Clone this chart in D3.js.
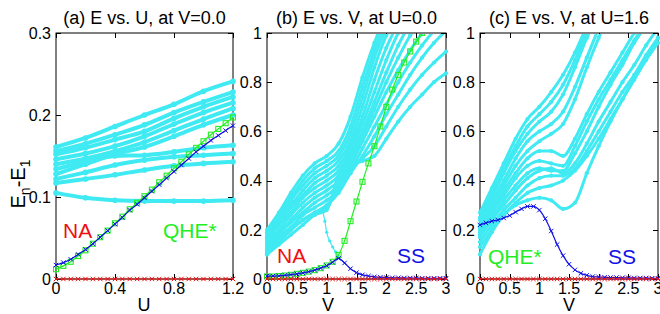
<!DOCTYPE html>
<html>
<head>
<meta charset="utf-8">
<script src="https://cdn.jsdelivr.net/npm/d3@7"></script>
<style>
  html, body { margin: 0; padding: 0; background: #fff; }
  svg { display: block; font-family: "Liberation Sans", Arial, sans-serif; }
</style>
</head>
<body>
<div id="chart"></div>
<script>
// ---- x grids ----
const uCyan = [0, 0.2, 0.4, 0.6, 0.8, 1.0, 1.2];
const uFine = [0, 0.05, 0.1, 0.15, 0.2, 0.25, 0.3, 0.35, 0.4, 0.45, 0.5, 0.55, 0.6, 0.65, 0.7, 0.75, 0.8, 0.85, 0.9, 0.95, 1.0, 1.05, 1.1, 1.15, 1.2];
const vCyan = [0, 0.2, 0.4, 0.6, 0.8, 1.0, 1.2, 1.4, 1.6, 1.8, 2.0, 2.2, 2.4, 2.6, 2.8, 3.0];
const vFine = [0, 0.1, 0.2, 0.3, 0.4, 0.5, 0.6, 0.7, 0.8, 0.9, 1.0, 1.1, 1.2, 1.3, 1.4, 1.5, 1.6, 1.7, 1.8, 1.9, 2.0,
               2.1, 2.2, 2.3, 2.4, 2.5, 2.6, 2.7, 2.8, 2.9, 3.0];

// ---- (a) E vs U at V=0 ----
const cyanA = [
  [0.161, 0.172, 0.186, 0.200, 0.213, 0.229, 0.241],
  [0.156, 0.165, 0.176, 0.188, 0.203, 0.216, 0.228],
  [0.152, 0.160, 0.170, 0.180, 0.196, 0.210, 0.222],
  [0.146, 0.153, 0.162, 0.174, 0.189, 0.203, 0.215],
  [0.140, 0.147, 0.156, 0.167, 0.181, 0.195, 0.208],
  [0.128, 0.140, 0.152, 0.161, 0.174, 0.188, 0.200],
  [0.134, 0.143, 0.150, 0.151, 0.155, 0.160, 0.163],
  [0.122, 0.130, 0.139, 0.145, 0.149, 0.151, 0.153],
  [0.117, 0.122, 0.127, 0.133, 0.138, 0.141, 0.143],
  [0.105, 0.099, 0.096, 0.095, 0.095, 0.095, 0.096]
];
const greenA = [0.012, 0.016, 0.021, 0.028, 0.035, 0.043, 0.051, 0.059, 0.068, 0.076, 0.085, 0.093, 0.101,
                0.109, 0.118, 0.126, 0.135, 0.143, 0.152, 0.160, 0.168, 0.176, 0.183, 0.190, 0.197];
const blueA  = [0.017, 0.020, 0.024, 0.030, 0.036, 0.043, 0.051, 0.059, 0.067, 0.075, 0.084, 0.091, 0.099,
                0.107, 0.115, 0.123, 0.131, 0.139, 0.147, 0.155, 0.162, 0.169, 0.175, 0.181, 0.187];
const redA   = [0, 0, 0, 0, 0, 0, 0, 0, 0, 0, 0, 0, 0, 0, 0, 0, 0, 0, 0, 0, 0, 0, 0, 0, 0];

// ---- (b) E vs V at U=0 ----
const cyanB = [
  [0.20, 0.27, 0.35, 0.42, 0.47, 0.50, 0.55, 0.66, 0.82, 0.96, 1.08],
  [0.19, 0.26, 0.33, 0.40, 0.45, 0.48, 0.52, 0.62, 0.78, 0.93, 1.05],
  [0.18, 0.25, 0.32, 0.38, 0.43, 0.46, 0.50, 0.59, 0.74, 0.90, 1.02],
  [0.17, 0.24, 0.30, 0.36, 0.41, 0.44, 0.48, 0.56, 0.70, 0.86, 0.99, 1.08],
  [0.16, 0.23, 0.29, 0.34, 0.39, 0.42, 0.46, 0.54, 0.66, 0.81, 0.94, 1.04],
  [0.15, 0.22, 0.27, 0.33, 0.37, 0.40, 0.44, 0.52, 0.63, 0.76, 0.89, 1.00, 1.08],
  [0.14, 0.20, 0.26, 0.31, 0.35, 0.38, 0.42, 0.50, 0.60, 0.72, 0.84, 0.95, 1.04],
  [0.13, 0.19, 0.24, 0.29, 0.33, 0.36, 0.40, 0.48, 0.58, 0.69, 0.80, 0.90, 0.99, 1.06],
  [0.12, 0.18, 0.23, 0.27, 0.31, 0.34, 0.38, 0.46, 0.56, 0.66, 0.76, 0.85, 0.93, 1.00, 1.06],
  [0.11, 0.17, 0.21, 0.26, 0.29, 0.32, 0.36, 0.44, 0.53, 0.62, 0.71, 0.80, 0.88, 0.95, 1.01],
  [0.10, 0.15, 0.20, 0.24, 0.27, 0.30, 0.35, 0.43, 0.50, 0.58, 0.67, 0.75, 0.83, 0.90, 0.96, 1.01],
  [0.11, 0.16, 0.20, 0.24, 0.27, 0.29, 0.38, 0.45, 0.49, 0.54, 0.62, 0.70, 0.77, 0.83, 0.88, 0.924],
  [0.10, 0.14, 0.18, 0.22, 0.26, 0.28, 0.42, 0.46, 0.48, 0.50, 0.57, 0.64, 0.70, 0.75, 0.80, 0.836]
];
const thinV  = [0.93, 0.97, 1.0, 1.05, 1.1, 1.15, 1.19];
const thinB  = [0.28, 0.235, 0.19, 0.155, 0.13, 0.11, 0.095];
const greenB = [0.010, 0.010, 0.012, 0.014, 0.017, 0.021, 0.025, 0.030, 0.036, 0.044, 0.055, 0.070, 0.098, 0.155,
                0.235, 0.315, 0.395, 0.470, 0.540, 0.620, 0.700, 0.770, 0.830, 0.880, 0.925, 0.965, 1.000, 1.040];
const blueB  = [0.012, 0.012, 0.013, 0.015, 0.018, 0.021, 0.025, 0.030, 0.036, 0.044, 0.054, 0.068, 0.084, 0.065,
                0.042, 0.026, 0.017, 0.012, 0.009, 0.007, 0.006, 0.005, 0.005, 0.004, 0.004, 0.004, 0.003, 0.003,
                0.003, 0.003, 0.003];
const redB   = [0, 0, 0, 0, 0, 0, 0, 0, 0, 0, 0, 0, 0, 0, 0, 0, 0, 0, 0, 0, 0, 0, 0, 0, 0, 0, 0, 0, 0, 0, 0];

// ---- (c) E vs V at U=1.6 ----
const cyanC = [
  [0.27, 0.37, 0.47, 0.57, 0.65, 0.70, 0.76, 0.83, 0.92, 1.03],
  [0.25, 0.35, 0.45, 0.54, 0.62, 0.67, 0.72, 0.79, 0.89, 1.01],
  [0.24, 0.33, 0.43, 0.52, 0.59, 0.64, 0.68, 0.75, 0.86, 0.98, 1.08],
  [0.22, 0.31, 0.40, 0.49, 0.56, 0.60, 0.63, 0.68, 0.78, 0.90, 1.02],
  [0.21, 0.30, 0.38, 0.46, 0.52, 0.56, 0.59, 0.63, 0.73, 0.86, 0.98, 1.09],
  [0.20, 0.28, 0.36, 0.43, 0.49, 0.52, 0.52, 0.50, 0.57, 0.67, 0.76, 0.84, 0.92, 1.00, 1.06],
  [0.19, 0.27, 0.34, 0.41, 0.46, 0.48, 0.47, 0.46, 0.54, 0.64, 0.73, 0.81, 0.89, 0.97, 1.04],
  [0.18, 0.25, 0.32, 0.38, 0.43, 0.45, 0.44, 0.44, 0.51, 0.60, 0.70, 0.79, 0.87, 0.96, 1.03],
  [0.17, 0.24, 0.30, 0.36, 0.41, 0.44, 0.45, 0.43, 0.47, 0.55, 0.64, 0.72, 0.80, 0.87, 0.95, 1.02],
  [0.15, 0.22, 0.28, 0.33, 0.38, 0.41, 0.42, 0.42, 0.45, 0.52, 0.60, 0.68, 0.76, 0.83, 0.91, 0.98],
  [0.13, 0.20, 0.26, 0.31, 0.35, 0.37, 0.38, 0.40, 0.44, 0.50, 0.57, 0.65, 0.73, 0.81, 0.89, 0.96],
  [0.10, 0.19, 0.26, 0.30, 0.32, 0.33, 0.32, 0.285, 0.31, 0.43, 0.54, 0.64, 0.73, 0.82, 0.90, 0.98]
];
const blueC = [0.220, 0.228, 0.235, 0.240, 0.248, 0.258, 0.272, 0.285, 0.295, 0.295, 0.280, 0.245, 0.195, 0.140,
               0.095, 0.060, 0.037, 0.023, 0.015, 0.010, 0.008, 0.007, 0.006, 0.006, 0.005, 0.005, 0.004, 0.004,
               0.004, 0.003, 0.003];
const redC  = [0, 0, 0, 0, 0, 0, 0, 0, 0, 0, 0, 0, 0, 0, 0, 0, 0, 0, 0, 0, 0, 0, 0, 0, 0, 0, 0, 0, 0, 0, 0];

// ---- colours ----
const CYAN = "#40eaf2", GREEN = "#22ee22", BLUE = "#1010e6", RED = "#ee1010";

const W = 660, H = 314;
const plotTop = 33, plotBottom = 279;

const panels = [
  { key: "a", title: "(a) E vs. U, at V=0.0", x0: 56, x1: 233, xDom: [0, 1.2], yDom: [0, 0.3],
    xTicks: [0, 0.4, 0.8, 1.2], yTicks: [0, 0.1, 0.2, 0.3], xLabel: "U", xLabelX: 144,
    cyanX: uCyan, cyan: cyanA, cyanW: 4.0, fineX: uFine, green: greenA, blue: blueA, red: redA,
    notes: [{ t: "NA", c: RED, x: 63, y: 238 }, { t: "QHE*", c: GREEN, x: 163, y: 238 }] },
  { key: "b", title: "(b) E vs. V, at U=0.0", x0: 267, x1: 446, xDom: [0, 3], yDom: [0, 1],
    xTicks: [0, 0.5, 1, 1.5, 2, 2.5, 3], yTicks: [0, 0.2, 0.4, 0.6, 0.8, 1], xLabel: "V", xLabelX: 328,
    cyanX: vCyan, cyan: cyanB, cyanW: 3.0, fineX: vFine, green: greenB, blue: blueB, red: redB,
    thin: { x: thinV, y: thinB },
    notes: [{ t: "NA", c: RED, x: 277, y: 263 }, { t: "SS", c: BLUE, x: 397, y: 263 }] },
  { key: "c", title: "(c) E vs. V, at U=1.6", x0: 480, x1: 658, xDom: [0, 3], yDom: [0, 1],
    xTicks: [0, 0.5, 1, 1.5, 2, 2.5, 3], yTicks: [0, 0.2, 0.4, 0.6, 0.8, 1], xLabel: "V", xLabelX: 569,
    cyanX: vCyan, cyan: cyanC, cyanW: 3.0, fineX: vFine, green: null, blue: blueC, red: redC,
    notes: [{ t: "QHE*", c: GREEN, x: 488, y: 264 }, { t: "SS", c: BLUE, x: 608, y: 264 }] }
];

const svg = d3.select("#chart").append("svg")
  .attr("width", W).attr("height", H)
  .attr("viewBox", `0 0 ${W} ${H}`);

const fmt = d3.format("~g");
const crossPath = "M-2.2,-2.2L2.2,2.2M-2.2,2.2L2.2,-2.2";

panels.forEach(p => {
  const x = d3.scaleLinear().domain(p.xDom).range([p.x0, p.x1]);
  const y = d3.scaleLinear().domain(p.yDom).range([plotBottom, plotTop]);

  // frame and mirrored inward ticks (drawn first, data goes on top like gnuplot)
  const ax = svg.append("g").attr("stroke", "#000").attr("stroke-width", 1);
  ax.append("rect")
    .attr("x", p.x0).attr("y", plotTop)
    .attr("width", p.x1 - p.x0).attr("height", plotBottom - plotTop)
    .attr("fill", "none");
  const tl = 5;
  p.xTicks.forEach(t => {
    const xx = Math.round(x(t)) + 0.5;
    ax.append("line").attr("x1", xx).attr("x2", xx).attr("y1", plotBottom).attr("y2", plotBottom - tl);
    ax.append("line").attr("x1", xx).attr("x2", xx).attr("y1", plotTop).attr("y2", plotTop + tl);
  });
  p.yTicks.forEach(t => {
    const yy = Math.round(y(t)) + 0.5;
    ax.append("line").attr("x1", p.x0).attr("x2", p.x0 + tl).attr("y1", yy).attr("y2", yy);
    ax.append("line").attr("x1", p.x1).attr("x2", p.x1 - tl).attr("y1", yy).attr("y2", yy);
  });

  const clipId = "clip-" + p.key;
  svg.append("clipPath").attr("id", clipId)
    .append("rect")
    .attr("x", p.x0 - 3).attr("y", plotTop + 1)
    .attr("width", p.x1 - p.x0 + 6).attr("height", plotBottom - plotTop + 3);

  const g = svg.append("g").attr("clip-path", `url(#${clipId})`);

  const line = d3.line()
    .x(d => x(d[0])).y(d => y(d[1]))
    .curve(d3.curveMonotoneX);

  // cyan excited levels
  p.cyan.forEach(vals => {
    const pts = vals.map((v, i) => [p.cyanX[i], v]);
    g.append("path").datum(pts)
      .attr("d", line).attr("fill", "none")
      .attr("stroke", CYAN).attr("stroke-width", p.cyanW)
      .attr("stroke-linecap", "round").attr("stroke-linejoin", "round");
    g.selectAll(null).data(pts).enter().append("circle")
      .attr("cx", d => x(d[0])).attr("cy", d => y(d[1]))
      .attr("r", p.cyanW * 0.7).attr("fill", CYAN);
  });

  // thin crossing level
  if (p.thin) {
    const pts = p.thin.x.map((v, i) => [v, p.thin.y[i]]);
    g.append("path").datum(pts)
      .attr("d", line).attr("fill", "none")
      .attr("stroke", CYAN).attr("stroke-width", 1.2);
    g.selectAll(null).data(pts).enter().append("circle")
      .attr("cx", d => x(d[0])).attr("cy", d => y(d[1]))
      .attr("r", 1.6).attr("fill", CYAN);
  }

  // green (squares)
  if (p.green) {
    const pts = p.green.map((v, i) => [p.fineX[i], v]);
    g.append("path").datum(pts)
      .attr("d", line).attr("fill", "none")
      .attr("stroke", GREEN).attr("stroke-width", 1.2);
    g.selectAll(null).data(pts).enter().append("rect")
      .attr("x", d => x(d[0]) - 2.5).attr("y", d => y(d[1]) - 2.5)
      .attr("width", 5).attr("height", 5)
      .attr("fill", "none").attr("stroke", GREEN).attr("stroke-width", 1.1);
  }

  // blue and red (crosses)
  [[p.blue, BLUE], [p.red, RED]].forEach(([vals, col]) => {
    const pts = vals.map((v, i) => [p.fineX[i], v]);
    g.append("path").datum(pts)
      .attr("d", line).attr("fill", "none")
      .attr("stroke", col).attr("stroke-width", 1.2);
    g.selectAll(null).data(pts).enter().append("path")
      .attr("transform", d => `translate(${x(d[0])},${y(d[1])})`)
      .attr("d", crossPath).attr("fill", "none")
      .attr("stroke", col).attr("stroke-width", 1);
  });

  // tick labels
  svg.append("g").selectAll("text").data(p.xTicks).enter().append("text")
    .attr("x", d => x(d)).attr("y", 294)
    .attr("text-anchor", "middle").attr("font-size", 16).attr("fill", "#000")
    .text(fmt);
  svg.append("g").selectAll("text").data(p.yTicks).enter().append("text")
    .attr("x", p.x0 - 5).attr("y", d => y(d)).attr("dy", "0.36em")
    .attr("text-anchor", "end").attr("font-size", 16).attr("fill", "#000")
    .text(fmt);

  // title and axis label
  svg.append("text")
    .attr("x", (p.x0 + p.x1) / 2).attr("y", 24)
    .attr("text-anchor", "middle").attr("font-size", 18)
    .text(p.title);
  svg.append("text")
    .attr("x", p.xLabelX).attr("y", 311)
    .attr("text-anchor", "middle").attr("font-size", 18)
    .text(p.xLabel);

  // phase annotations
  p.notes.forEach(n => {
    svg.append("text")
      .attr("x", n.x).attr("y", n.y)
      .attr("font-size", 21).attr("fill", n.c)
      .text(n.t);
  });
});

// y-axis label E_n - E_1
const yl = svg.append("text")
  .attr("transform", "translate(25,184) rotate(-90)")
  .attr("text-anchor", "middle").attr("font-size", 20);
yl.append("tspan").text("E");
yl.append("tspan").attr("font-size", 14).attr("dy", 5).text("n");
yl.append("tspan").attr("dy", -5).text("-E");
yl.append("tspan").attr("font-size", 14).attr("dy", 5).text("1");
</script>
</body>
</html>
